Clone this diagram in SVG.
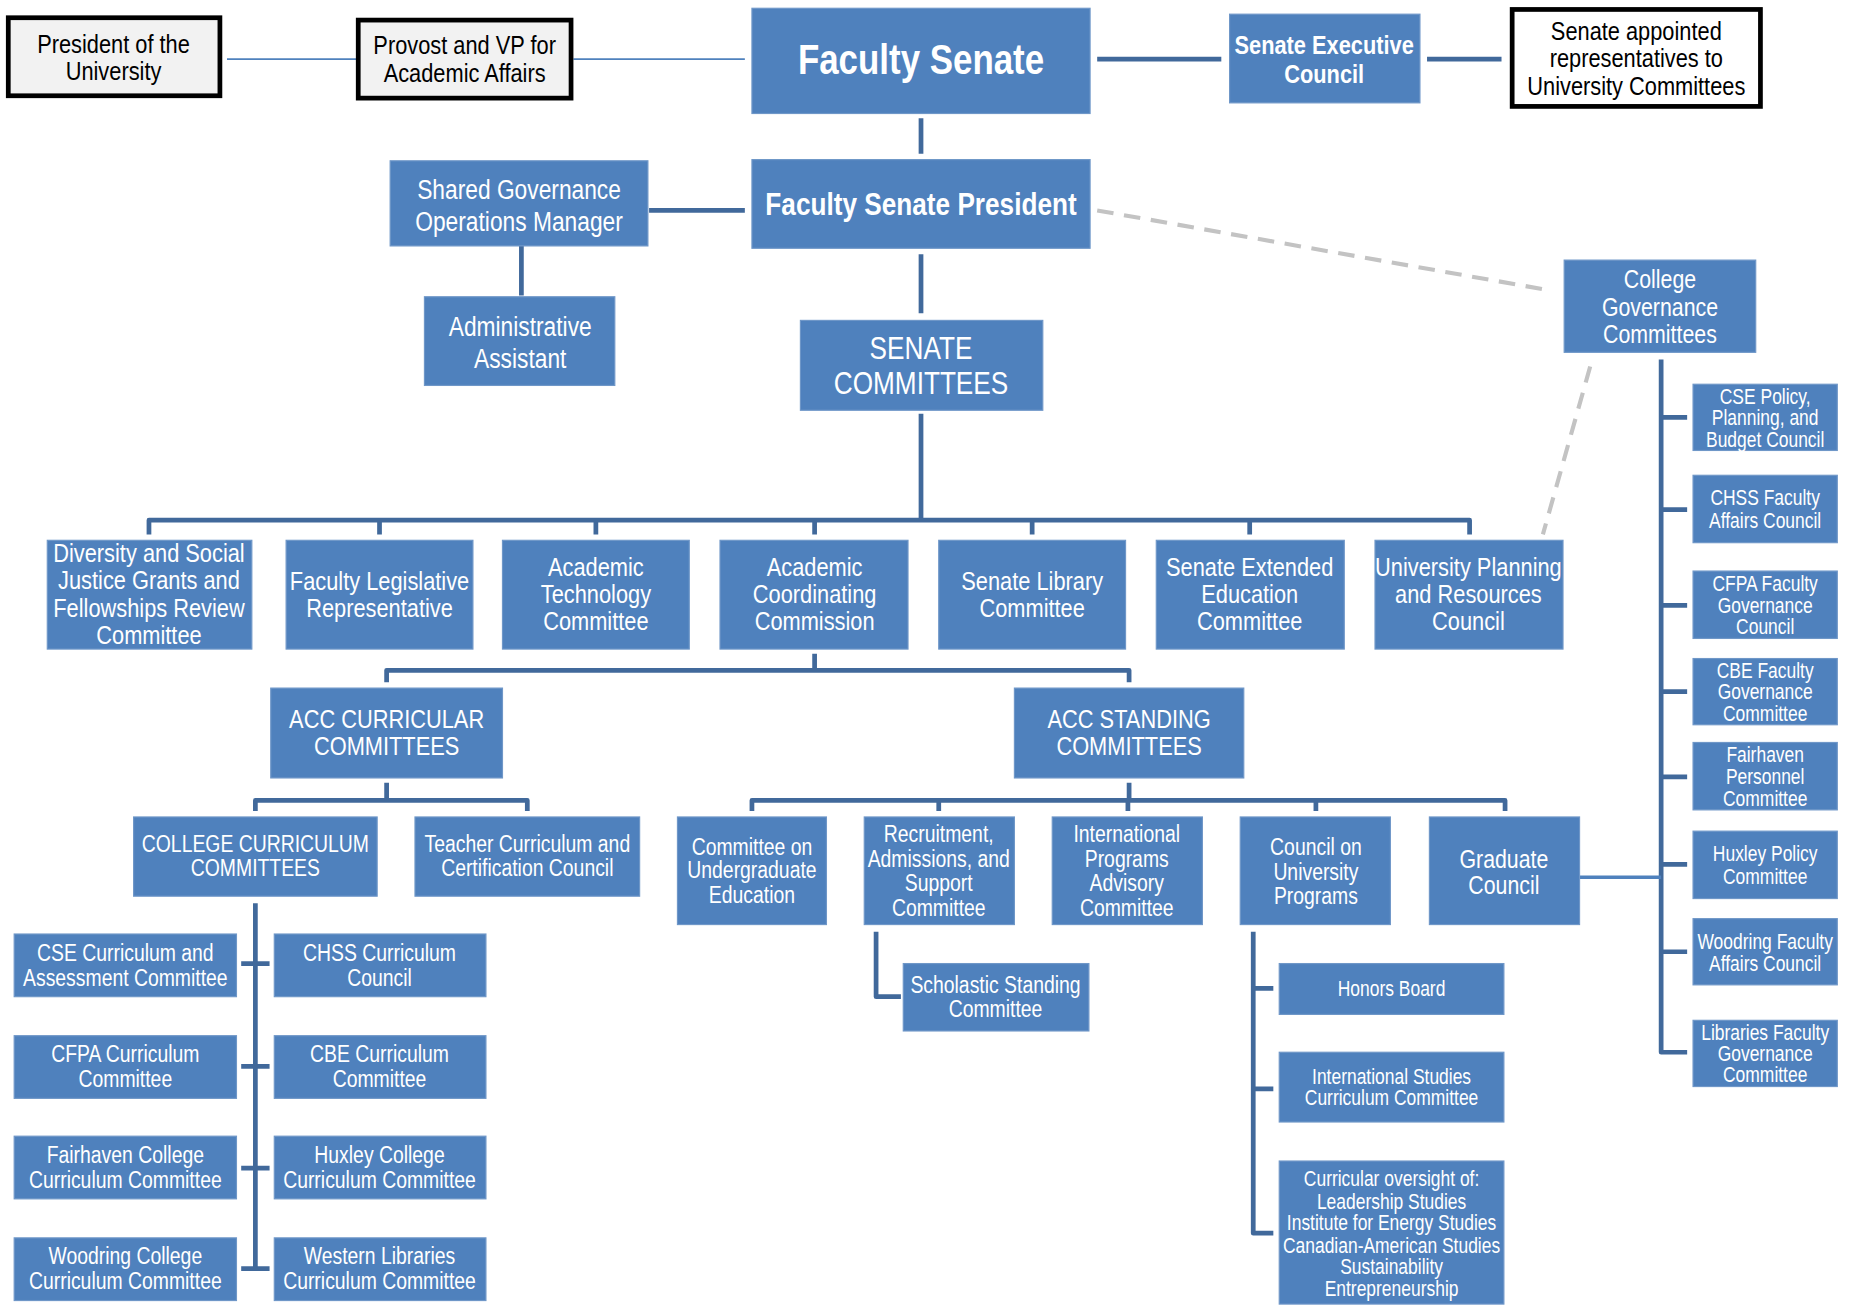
<svg xmlns="http://www.w3.org/2000/svg" width="1853" height="1305" viewBox="0 0 1853 1305">
<style>
.n{fill:#4f81bd;stroke:#6f97c8;stroke-width:1}
.g{fill:#f2f2f2;stroke:#000;stroke-width:4}
.w{fill:#fff;stroke:#000;stroke-width:4}
text{font-family:'Liberation Sans Narrow','Arial Narrow','Liberation Sans',Arial,sans-serif;text-anchor:middle;fill:#fff}
.k{fill:#000}
.c{fill:none;stroke:#41699b;stroke-width:4;stroke-linejoin:round}
.thin{fill:none;stroke:#4f81bd;stroke-width:1.5}
.d{fill:none;stroke:#c3c3c3;stroke-width:3.5;stroke-dasharray:14 9}
</style>
<rect width="1853" height="1305" fill="#fff"/>
<g transform="scale(1.1823)">
<g id="connectors">
<path class="thin" d="M192 50H302M485 50H630"/>
<path class="c" d="M928 50H1033M1207 50H1270M779 100V130M549 178H630M441 208V250M779 215V265M779 350V440"/>
<path class="c" d="M126 452V440H1243V452M321 440V452M504 440V452M689 440V452M873 440V452M1057 440V452"/>
<path class="c" d="M689 553V567M327 577V567H955V577"/>
<path class="c" d="M327 662V677M216 686V677H446V686"/>
<path class="c" d="M955 662V677M636 686V677H1273V686M794 677V686M954 677V686M1113 677V686"/>
<path class="c" d="M216 764V1075M204 815H228M204 902H228M204 988H228M204 1073H228"/>
<path class="c" d="M741 788V843H762"/>
<path class="c" d="M1060 788V1043H1077M1060 836H1077M1060 921H1077"/>
<path class="c" d="M1405 304V890H1427M1405 353H1427M1405 431H1427M1405 512H1427M1405 585H1427M1405 657H1427M1405 731H1427M1405 805H1427"/>
<path class="c" style="stroke:#4f81bd;stroke-width:3" d="M1336 742H1405"/>
<path class="d" d="M928 178L1313 246M1345 310L1305 452"/>
</g>
<g id="president"><rect class="g" x="7" y="15" width="179" height="66"/><text class="k" font-size="22.5" transform="matrix(.82 0 0 1 96 0)"><tspan x="0" y="45">President of the</tspan><tspan x="0" y="68">University</tspan></text></g>
<g id="provost"><rect class="g" x="303" y="17" width="180" height="66"/><text class="k" font-size="22.5" transform="matrix(.82 0 0 1 393 0)"><tspan x="0" y="46">Provost and VP for</tspan><tspan x="0" y="69">Academic Affairs</tspan></text></g>
<g id="faculty-senate"><rect class="n" x="636" y="7" width="286" height="89"/><text font-size="36" font-weight="bold" transform="matrix(.82 0 0 1 779 0)" x="0" y="63">Faculty Senate</text></g>
<g id="sec"><rect class="n" x="1040" y="12" width="161" height="75"/><text font-size="22.5" font-weight="bold" transform="matrix(.82 0 0 1 1120 0)"><tspan x="0" y="46">Senate Executive</tspan><tspan x="0" y="70">Council</tspan></text></g>
<g id="appointed"><rect class="w" x="1279" y="8" width="210" height="82"/><text class="k" font-size="22.5" transform="matrix(.82 0 0 1 1384 0)"><tspan x="0" y="34">Senate appointed</tspan><tspan x="0" y="57">representatives to</tspan><tspan x="0" y="80">University Committees</tspan></text></g>
<g id="fsp"><rect class="n" x="636" y="135" width="286" height="75"/><text font-size="27" font-weight="bold" transform="matrix(.82 0 0 1 779 0)" x="0" y="182">Faculty Senate President</text></g>
<g id="sgom"><rect class="n" x="330" y="136" width="218" height="72"/><text font-size="23.5" transform="matrix(.82 0 0 1 439 0)"><tspan x="0" y="168">Shared Governance</tspan><tspan x="0" y="195">Operations Manager</tspan></text></g>
<g id="admin"><rect class="n" x="359" y="251" width="161" height="75"/><text font-size="23.5" transform="matrix(.82 0 0 1 440 0)"><tspan x="0" y="284">Administrative</tspan><tspan x="0" y="311">Assistant</tspan></text></g>
<g id="senate-committees"><rect class="n" x="677" y="271" width="205" height="76"/><text font-size="27" transform="matrix(.82 0 0 1 779 0)"><tspan x="0" y="304">SENATE</tspan><tspan x="0" y="333">COMMITTEES</tspan></text></g>
<g id="cgc"><rect class="n" x="1323" y="220" width="162" height="78"/><text font-size="22" transform="matrix(.82 0 0 1 1404 0)"><tspan x="0" y="244">College</tspan><tspan x="0" y="267">Governance</tspan><tspan x="0" y="290">Committees</tspan></text></g>
<g id="dsj"><rect class="n" x="40" y="457" width="173" height="92"/><text font-size="22.5" transform="matrix(.82 0 0 1 126 0)"><tspan x="0" y="475">Diversity and Social</tspan><tspan x="0" y="498">Justice Grants and</tspan><tspan x="0" y="522">Fellowships Review</tspan><tspan x="0" y="545">Committee</tspan></text></g>
<g id="flr"><rect class="n" x="242" y="457" width="158" height="92"/><text font-size="22.5" transform="matrix(.82 0 0 1 321 0)"><tspan x="0" y="499">Faculty Legislative</tspan><tspan x="0" y="522">Representative</tspan></text></g>
<g id="atc"><rect class="n" x="425" y="457" width="158" height="92"/><text font-size="22.5" transform="matrix(.82 0 0 1 504 0)"><tspan x="0" y="487">Academic</tspan><tspan x="0" y="510">Technology</tspan><tspan x="0" y="533">Committee</tspan></text></g>
<g id="acc"><rect class="n" x="609" y="457" width="159" height="92"/><text font-size="22.5" transform="matrix(.82 0 0 1 689 0)"><tspan x="0" y="487">Academic</tspan><tspan x="0" y="510">Coordinating</tspan><tspan x="0" y="533">Commission</tspan></text></g>
<g id="slc"><rect class="n" x="794" y="457" width="158" height="92"/><text font-size="22.5" transform="matrix(.82 0 0 1 873 0)"><tspan x="0" y="499">Senate Library</tspan><tspan x="0" y="522">Committee</tspan></text></g>
<g id="seec"><rect class="n" x="978" y="457" width="159" height="92"/><text font-size="22.5" transform="matrix(.82 0 0 1 1057 0)"><tspan x="0" y="487">Senate Extended</tspan><tspan x="0" y="510">Education</tspan><tspan x="0" y="533">Committee</tspan></text></g>
<g id="uprc"><rect class="n" x="1163" y="457" width="159" height="92"/><text font-size="22.5" transform="matrix(.82 0 0 1 1242 0)"><tspan x="0" y="487">University Planning</tspan><tspan x="0" y="510">and Resources</tspan><tspan x="0" y="533">Council</tspan></text></g>
<g id="acc-curricular"><rect class="n" x="229" y="582" width="196" height="76"/><text font-size="22.5" transform="matrix(.82 0 0 1 327 0)"><tspan x="0" y="616">ACC CURRICULAR</tspan><tspan x="0" y="639">COMMITTEES</tspan></text></g>
<g id="acc-standing"><rect class="n" x="858" y="582" width="194" height="76"/><text font-size="22.5" transform="matrix(.82 0 0 1 955 0)"><tspan x="0" y="616">ACC STANDING</tspan><tspan x="0" y="639">COMMITTEES</tspan></text></g>
<g id="ccc"><rect class="n" x="113" y="691" width="206" height="67"/><text font-size="20" transform="matrix(.82 0 0 1 216 0)"><tspan x="0" y="721">COLLEGE CURRICULUM</tspan><tspan x="0" y="741">COMMITTEES</tspan></text></g>
<g id="tccc"><rect class="n" x="351" y="691" width="190" height="67"/><text font-size="20" transform="matrix(.82 0 0 1 446 0)"><tspan x="0" y="721">Teacher Curriculum and</tspan><tspan x="0" y="741">Certification Council</tspan></text></g>
<g id="cue"><rect class="n" x="573" y="691" width="126" height="91"/><text font-size="20" transform="matrix(.82 0 0 1 636 0)"><tspan x="0" y="723">Committee on</tspan><tspan x="0" y="743">Undergraduate</tspan><tspan x="0" y="764">Education</tspan></text></g>
<g id="rasc"><rect class="n" x="731" y="691" width="127" height="91"/><text font-size="20" transform="matrix(.82 0 0 1 794 0)"><tspan x="0" y="712">Recruitment,</tspan><tspan x="0" y="733">Admissions, and</tspan><tspan x="0" y="754">Support</tspan><tspan x="0" y="775">Committee</tspan></text></g>
<g id="ipac"><rect class="n" x="890" y="691" width="127" height="91"/><text font-size="20" transform="matrix(.82 0 0 1 953 0)"><tspan x="0" y="712">International</tspan><tspan x="0" y="733">Programs</tspan><tspan x="0" y="754">Advisory</tspan><tspan x="0" y="775">Committee</tspan></text></g>
<g id="cup"><rect class="n" x="1049" y="691" width="127" height="91"/><text font-size="20" transform="matrix(.82 0 0 1 1113 0)"><tspan x="0" y="723">Council on</tspan><tspan x="0" y="744">University</tspan><tspan x="0" y="765">Programs</tspan></text></g>
<g id="gc"><rect class="n" x="1209" y="691" width="127" height="91"/><text font-size="22" transform="matrix(.82 0 0 1 1272 0)"><tspan x="0" y="734">Graduate</tspan><tspan x="0" y="756">Council</tspan></text></g>
<g id="ssc"><rect class="n" x="764" y="815" width="157" height="57"/><text font-size="20" transform="matrix(.82 0 0 1 842 0)"><tspan x="0" y="840">Scholastic Standing</tspan><tspan x="0" y="860">Committee</tspan></text></g>
<g id="hb"><rect class="n" x="1082" y="815" width="190" height="43"/><text font-size="18" transform="matrix(.82 0 0 1 1177 0)" x="0" y="842.5">Honors Board</text></g>
<g id="iscc"><rect class="n" x="1082" y="890" width="190" height="59"/><text font-size="18" transform="matrix(.82 0 0 1 1177 0)"><tspan x="0" y="916.5">International Studies</tspan><tspan x="0" y="934.5">Curriculum Committee</tspan></text></g>
<g id="co"><rect class="n" x="1082" y="982" width="190" height="121"/><text font-size="18" transform="matrix(.82 0 0 1 1177 0)"><tspan x="0" y="1003.5">Curricular oversight of:</tspan><tspan x="0" y="1022.5">Leadership Studies</tspan><tspan x="0" y="1040.5">Institute for Energy Studies</tspan><tspan x="0" y="1059.5">Canadian-American Studies</tspan><tspan x="0" y="1077.5">Sustainability</tspan><tspan x="0" y="1096.5">Entrepreneurship</tspan></text></g>
<g id="cse-cac"><rect class="n" x="12" y="790" width="188" height="53"/><text font-size="20" transform="matrix(.82 0 0 1 106 0)"><tspan x="0" y="813">CSE Curriculum and</tspan><tspan x="0" y="834">Assessment Committee</tspan></text></g>
<g id="cfpa-cc"><rect class="n" x="12" y="876" width="188" height="53"/><text font-size="20" transform="matrix(.82 0 0 1 106 0)"><tspan x="0" y="898">CFPA Curriculum</tspan><tspan x="0" y="919">Committee</tspan></text></g>
<g id="fcc"><rect class="n" x="12" y="961" width="188" height="53"/><text font-size="20" transform="matrix(.82 0 0 1 106 0)"><tspan x="0" y="984">Fairhaven College</tspan><tspan x="0" y="1005">Curriculum Committee</tspan></text></g>
<g id="wcc"><rect class="n" x="12" y="1047" width="188" height="53"/><text font-size="20" transform="matrix(.82 0 0 1 106 0)"><tspan x="0" y="1069">Woodring College</tspan><tspan x="0" y="1090">Curriculum Committee</tspan></text></g>
<g id="chss-cc"><rect class="n" x="232" y="790" width="179" height="53"/><text font-size="20" transform="matrix(.82 0 0 1 321 0)"><tspan x="0" y="813">CHSS Curriculum</tspan><tspan x="0" y="834">Council</tspan></text></g>
<g id="cbe-cc"><rect class="n" x="232" y="876" width="179" height="53"/><text font-size="20" transform="matrix(.82 0 0 1 321 0)"><tspan x="0" y="898">CBE Curriculum</tspan><tspan x="0" y="919">Committee</tspan></text></g>
<g id="hcc"><rect class="n" x="232" y="961" width="179" height="53"/><text font-size="20" transform="matrix(.82 0 0 1 321 0)"><tspan x="0" y="984">Huxley College</tspan><tspan x="0" y="1005">Curriculum Committee</tspan></text></g>
<g id="wlcc"><rect class="n" x="232" y="1047" width="179" height="53"/><text font-size="20" transform="matrix(.82 0 0 1 321 0)"><tspan x="0" y="1069">Western Libraries</tspan><tspan x="0" y="1090">Curriculum Committee</tspan></text></g>
<g id="cse-ppbc"><rect class="n" x="1432" y="325" width="122" height="56"/><text font-size="18" transform="matrix(.82 0 0 1 1493 0)"><tspan x="0" y="341.5">CSE Policy,</tspan><tspan x="0" y="359.5">Planning, and</tspan><tspan x="0" y="378.5">Budget Council</tspan></text></g>
<g id="chss-fac"><rect class="n" x="1432" y="402" width="122" height="57"/><text font-size="18" transform="matrix(.82 0 0 1 1493 0)"><tspan x="0" y="427.5">CHSS Faculty</tspan><tspan x="0" y="446.5">Affairs Council</tspan></text></g>
<g id="cfpa-fgc"><rect class="n" x="1432" y="483" width="122" height="57"/><text font-size="18" transform="matrix(.82 0 0 1 1493 0)"><tspan x="0" y="499.5">CFPA Faculty</tspan><tspan x="0" y="518.5">Governance</tspan><tspan x="0" y="536.5">Council</tspan></text></g>
<g id="cbe-fgc"><rect class="n" x="1432" y="557" width="122" height="56"/><text font-size="18" transform="matrix(.82 0 0 1 1493 0)"><tspan x="0" y="573.5">CBE Faculty</tspan><tspan x="0" y="591.5">Governance</tspan><tspan x="0" y="609.5">Committee</tspan></text></g>
<g id="fpc"><rect class="n" x="1432" y="628" width="122" height="57"/><text font-size="18" transform="matrix(.82 0 0 1 1493 0)"><tspan x="0" y="644.5">Fairhaven</tspan><tspan x="0" y="663.5">Personnel</tspan><tspan x="0" y="681.5">Committee</tspan></text></g>
<g id="hpc"><rect class="n" x="1432" y="703" width="122" height="57"/><text font-size="18" transform="matrix(.82 0 0 1 1493 0)"><tspan x="0" y="728.5">Huxley Policy</tspan><tspan x="0" y="747.5">Committee</tspan></text></g>
<g id="wfac"><rect class="n" x="1432" y="777" width="122" height="56"/><text font-size="18" transform="matrix(.82 0 0 1 1493 0)"><tspan x="0" y="802.5">Woodring Faculty</tspan><tspan x="0" y="821.5">Affairs Council</tspan></text></g>
<g id="lfgc"><rect class="n" x="1432" y="863" width="122" height="56"/><text font-size="18" transform="matrix(.82 0 0 1 1493 0)"><tspan x="0" y="879.5">Libraries Faculty</tspan><tspan x="0" y="897.5">Governance</tspan><tspan x="0" y="915.5">Committee</tspan></text></g>
</g>
</svg>
